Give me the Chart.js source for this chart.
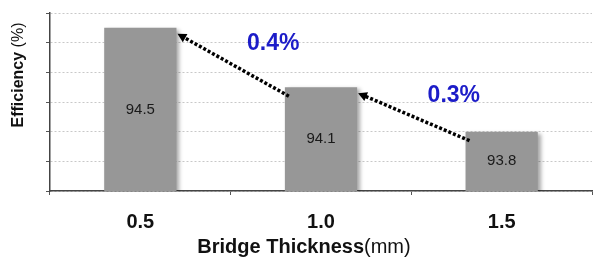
<!DOCTYPE html>
<html>
<head>
<meta charset="utf-8">
<script src="https://cdn.jsdelivr.net/npm/chart.js@4.4.1/dist/chart.umd.min.js"></script>
<style>
  html, body { margin: 0; padding: 0; background: #fff; }
</style>
</head>
<body>
<canvas id="barChart" width="593" height="262"></canvas>
<script>
/************************ DATA  ************************** */
const thickness = ["0.5", "1.0", "1.5"];
const efficiency = [94.5, 94.1, 93.8];
const dropLabels = ["0.4%", "0.3%"];
const yMin = 93.4;
const yMax = 94.6;
const yStep = 0.2;

/************************ HELPERS  ************************** */
const FONT = "'Liberation Sans', Arial, sans-serif";

// draws "bold part" + "normal part" centered on (x, y)
function mixedText(ctx, x, y, boldTxt, normalTxt, size) {
  ctx.font = `bold ${size}px ${FONT}`;
  const w1 = ctx.measureText(boldTxt).width;
  ctx.font = `${size}px ${FONT}`;
  const w2 = ctx.measureText(normalTxt).width;
  let start = x - (w1 + w2) / 2;
  ctx.textAlign = "left";
  ctx.textBaseline = "middle";
  ctx.fillStyle = "#111";
  ctx.font = `bold ${size}px ${FONT}`;
  ctx.fillText(boldTxt, start, y);
  ctx.font = `${size}px ${FONT}`;
  ctx.fillText(normalTxt, start + w1, y);
}

function drawArrow(ctx, x1, y1, x2, y2) {
  const ang = Math.atan2(y2 - y1, x2 - x1);
  const head = 10;
  ctx.save();
  ctx.strokeStyle = "#000";
  ctx.fillStyle = "#000";
  ctx.lineWidth = 3.5;
  ctx.setLineDash([3, 2]);
  ctx.beginPath();
  ctx.moveTo(x1, y1);
  ctx.lineTo(x2 - Math.cos(ang) * head * 0.8, y2 - Math.sin(ang) * head * 0.8);
  ctx.stroke();
  ctx.setLineDash([]);
  ctx.beginPath();
  ctx.moveTo(x2, y2);
  ctx.lineTo(x2 - head * Math.cos(ang - 0.5), y2 - head * Math.sin(ang - 0.5));
  ctx.lineTo(x2 - head * Math.cos(ang + 0.5), y2 - head * Math.sin(ang + 0.5));
  ctx.closePath();
  ctx.fill();
  ctx.restore();
}

/************************ PLUGIN  ************************** */
const decorations = {
  id: "decorations",
  beforeDatasetsDraw(chart) {
    const ctx = chart.ctx;
    ctx.save();
    ctx.shadowColor = "rgba(0,0,0,0.35)";
    ctx.shadowBlur = 4;
    ctx.shadowOffsetX = 3;
    ctx.shadowOffsetY = 2;
  },
  afterDatasetsDraw(chart) {
    const ctx = chart.ctx;
    ctx.restore();
    const bars = chart.getDatasetMeta(0).data;
    const area = chart.chartArea;

    // values inside the bars (bars are clipped at the axis)
    ctx.save();
    ctx.font = `15px ${FONT}`;
    ctx.fillStyle = "#1a1a1a";
    ctx.textAlign = "center";
    ctx.textBaseline = "middle";
    bars.forEach((bar, i) => {
      ctx.fillText(efficiency[i].toFixed(1), bar.x, (bar.y + area.bottom) / 2);
    });
    ctx.restore();

    // arrows + drop labels
    for (let i = 0; i < bars.length - 1; i++) {
      const a = bars[i];
      const b = bars[i + 1];
      const x1 = b.x - b.width / 2 + 4;
      const y1 = b.y + 9;
      const x2 = a.x + a.width / 2 + 1;
      const y2 = a.y + 6;
      drawArrow(ctx, x1, y1, x2, y2);

      ctx.save();
      ctx.font = `bold 23px ${FONT}`;
      ctx.fillStyle = "#1c1cc8";
      ctx.textAlign = "center";
      ctx.textBaseline = "middle";
      ctx.fillText(dropLabels[i], (x1 + x2) / 2 + 40, (y1 + y2) / 2 - 21);
      ctx.restore();
    }

    // axis titles
    ctx.save();
    mixedText(ctx, (area.left + area.right) / 2 - 17, 247, "Bridge Thickness", "(mm)", 20);
    ctx.restore();

    ctx.save();
    ctx.translate(19, area.top + 62);
    ctx.rotate(-Math.PI / 2);
    mixedText(ctx, 0, 0, "Efficiency", " (%)", 16);
    ctx.restore();
  },
};

/************************ CHART  ************************** */
const ctx = document.getElementById("barChart");
const config = {
  type: "bar",
  data: {
    labels: thickness,
    datasets: [
      {
        data: efficiency,
        backgroundColor: "#979797",
        borderWidth: 0,
        barPercentage: 0.8,
        categoryPercentage: 0.5,
      },
    ],
  },
  options: {
    responsive: false,
    animation: false,
    layout: {
      padding: { left: 46, top: 13, right: 1, bottom: 13 },
    },
    scales: {
      x: {
        grid: {
          drawOnChartArea: false,
          tickLength: 4,
          tickColor: "#555",
        },
        border: { color: "#444", width: 1.5 },
        ticks: {
          padding: 15,
          color: "#111",
          font: { family: FONT, size: 20, weight: "bold" },
        },
      },
      y: {
        min: yMin,
        max: yMax,
        ticks: { display: false, stepSize: yStep },
        grid: {
          color: "#c8c8c8",
          tickLength: 4,
          tickColor: "#555",
        },
        border: { color: "#444", width: 1.5, dash: [2, 2] },
      },
    },
    plugins: {
      legend: { display: false },
      tooltip: { enabled: false },
    },
  },
  plugins: [decorations],
};

let myBarChart = new Chart(ctx, config);
</script>
</body>
</html>
